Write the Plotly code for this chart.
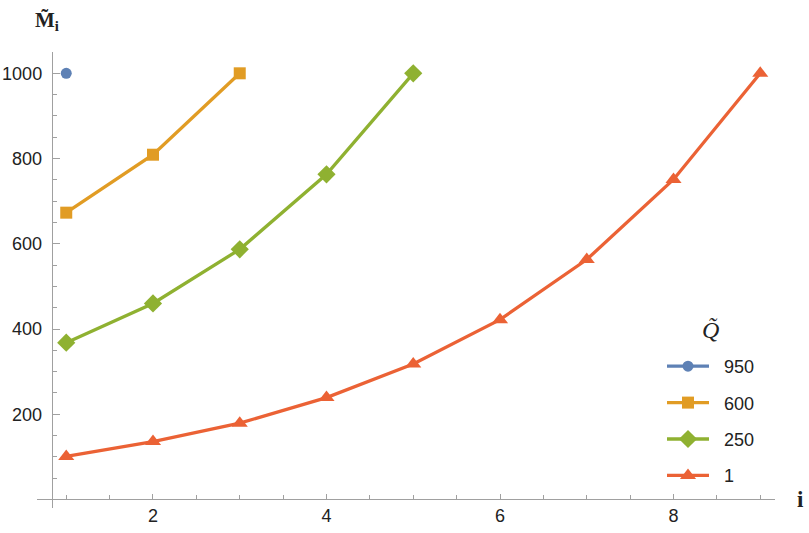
import plotly.graph_objects as go

# Data
i_950 = [1]
m_950 = [1000]
i_600 = [1, 2, 3]
m_600 = [673, 809, 1000]
i_250 = [1, 2, 3, 4, 5]
m_250 = [368, 460, 587, 763, 1000]
i_1 = [1, 2, 3, 4, 5, 6, 7, 8, 9]
m_1 = [101, 136, 179, 239, 318, 422, 563, 751, 1000]

series_names = ["950", "600", "250", "1"]
colors = ["#5E81B5", "#E19C24", "#8FB131", "#EB6235"]
symbols = ["circle", "square", "diamond", "triangle-up"]
msizes = [11, 12, 14, 14]

xrange_ = [0.663, 9.17]
yrange_ = [-20, 1050]

W, H = 809, 533
L, R, T, B = 37, 34, 52, 25
PW, PH = W - L - R, H - T - B

fig = go.Figure()
for name, xs, ys, c, s, ms in zip(series_names, [i_950, i_600, i_250, i_1],
                                  [m_950, m_600, m_250, m_1], colors, symbols, msizes):
    fig.add_trace(go.Scatter(
        x=xs, y=ys, name="\u00a0\u00a0" + name, mode="lines+markers",
        line=dict(color=c, width=3.3),
        marker=dict(color=c, symbol=s, size=ms, line=dict(width=0)),
        legendgroup=name, cliponaxis=False,
    ))

axcol = "#A0A0A0"
tickfont = dict(family="Liberation Sans, Arial, sans-serif", size=18, color="#222222")
ypos0 = (0 - yrange_[0]) / (yrange_[1] - yrange_[0])
xpos0 = (0.833 - xrange_[0]) / (xrange_[1] - xrange_[0])

fig.update_layout(
    width=W, height=H,
    margin=dict(l=L, r=R, t=T, b=B, autoexpand=False),
    paper_bgcolor="white", plot_bgcolor="white",
    xaxis=dict(
        range=xrange_, anchor="free", automargin=False, position=ypos0,
        showgrid=False, zeroline=False, showline=True, linecolor=axcol, linewidth=1,
        tickvals=[2, 4, 6, 8], ticks="inside", ticklen=5, tickcolor=axcol, tickwidth=1,
        minor=dict(dtick=0.5, tick0=0, ticks="inside", ticklen=4, tickcolor=axcol, showgrid=False),
        tickfont=tickfont, ticklabelstandoff=0,
    ),
    yaxis=dict(
        range=yrange_, anchor="free", automargin=False, position=xpos0,
        showgrid=False, zeroline=False, showline=True, linecolor=axcol, linewidth=1,
        tickvals=[200, 400, 600, 800, 1000], ticks="inside", ticklen=7, tickcolor=axcol, tickwidth=1,
        minor=dict(dtick=50, tick0=0, ticks="inside", ticklen=4, tickcolor=axcol, showgrid=False),
        tickfont=tickfont, ticklabelstandoff=6,
    ),
    showlegend=True,
    legend=dict(
        x=(662 - L) / PW, y=(H - B - 348) / PH, xanchor="left", yanchor="top",
        traceorder="grouped", tracegroupgap=10, itemwidth=42,
        font=dict(family="Liberation Sans, Arial, sans-serif", size=18, color="#222222"),
        bgcolor="rgba(0,0,0,0)",
    ),
    annotations=[
        dict(text="<i>Q̃</i>", xref="paper", yref="paper",
             x=(710 - L) / PW, y=(H - B - 330) / PH, xanchor="center", yanchor="middle",
             showarrow=False,
             font=dict(family="Liberation Serif, serif", size=24, color="#222222")),
        dict(text="<b>M̃<sub>i</sub></b>", xref="paper", yref="paper",
             x=xpos0, y=1.0, xanchor="center", yanchor="bottom", yshift=16, xshift=-5,
             showarrow=False,
             font=dict(family="Liberation Serif, serif", size=21, color="#222222")),
        dict(text="<b>i</b>", xref="paper", yref="paper",
             x=1.0, y=ypos0, xanchor="center", yanchor="middle", xshift=25, showarrow=False,
             font=dict(family="Liberation Serif, serif", size=23, color="#222222")),
    ],
)

# remove the browser's default 8px body margin so the figure fills the window
fig.write_html("out.html", config={"displayModeBar": False},
               post_script="document.body.style.margin='0';")
